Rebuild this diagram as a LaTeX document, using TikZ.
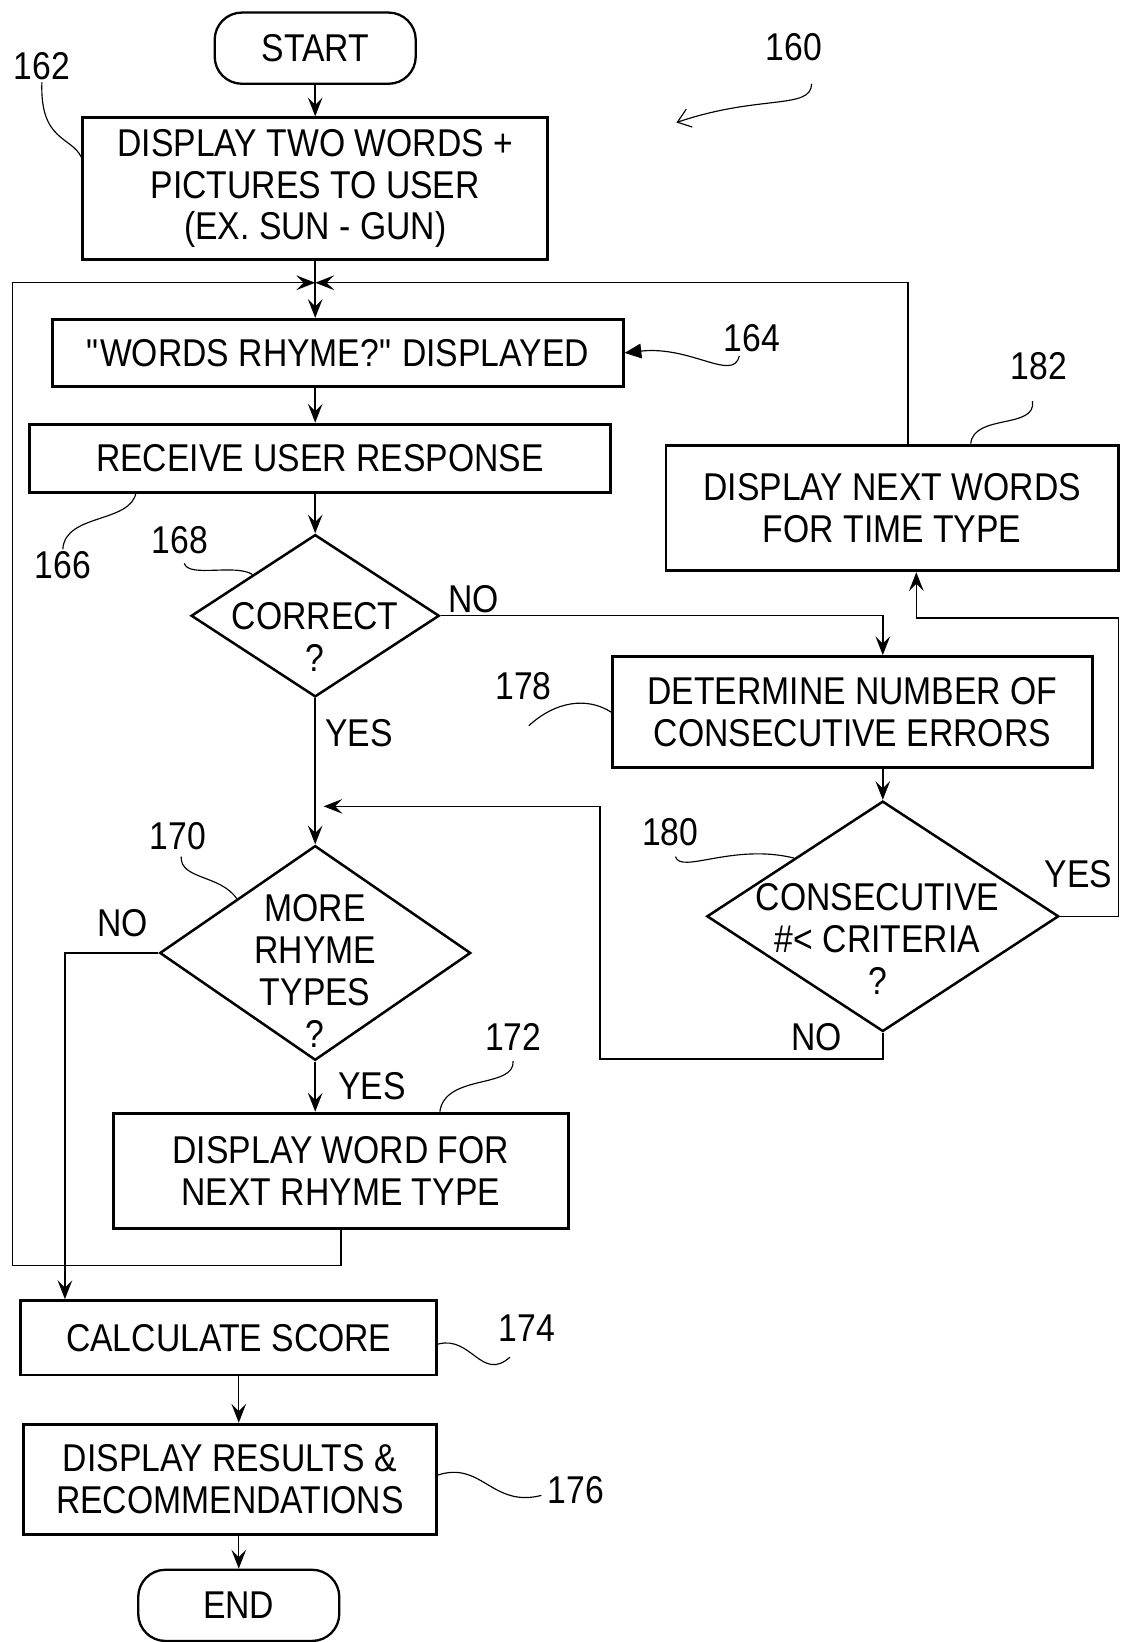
\documentclass[tikz,border=0pt]{standalone}
\usepackage{fontspec}
\setmainfont[FakeStretch=0.87]{Liberation Sans}
\usetikzlibrary{shapes.geometric,arrows.meta,positioning,calc}

\begin{document}
\begin{tikzpicture}[x=0.5pt,y=-0.5pt,>={Stealth[length=9pt,width=7pt,inset=3.5pt]},
    font=\fontsize{18.5}{20}\selectfont,
    base node/.style={draw,inner sep=0pt,align=center,line width=1.4pt},
    proc node/.style={base node,rectangle},
    term node/.style={base node,rounded corners=13pt,line width=1.1pt,minimum width=96pt,minimum height=34pt},
    dec node/.style={base node,diamond,line width=1.2pt},
    dec text/.style={align=center,inner sep=0pt},
    num/.style={inner sep=1pt},
    flow/.style={->,line width=0.7pt},
    lead/.style={line width=0.55pt}]
\useasboundingbox (0,0) rectangle (1070,1568);

\node[term node] (start) at (301,46) {START};
\node[proc node,minimum width=222pt,minimum height=67.5pt] (b162) at (301,180) {DISPLAY TWO WORDS +\\PICTURES TO USER\\(EX. SUN - GUN)};
\node[proc node,minimum width=272.5pt,minimum height=32pt] (b164) at (322.5,337) {\textquotedbl WORDS RHYME?\textquotedbl{} DISPLAYED};
\node[proc node,minimum width=277.5pt,minimum height=32.5pt] (b166) at (305.5,437.5) {RECEIVE USER RESPONSE};
\node[dec node,minimum width=118.5pt,minimum height=77.5pt] (d168) at (301,588) {};
\node[dec text] (t168) at (301,608) {CORRECT\\?};
\node[proc node,minimum width=229pt,minimum height=53pt] (b178) at (814,680) {DETERMINE NUMBER OF\\CONSECUTIVE ERRORS};
\node[dec node,minimum width=168pt,minimum height=110pt] (d180) at (843,875) {};
\node[dec text] (t180) at (838,897) {CONSECUTIVE\\\#< CRITERIA\\?};
\node[proc node,minimum width=216pt,minimum height=60pt] (b182) at (852,485) {DISPLAY NEXT WORDS\\FOR TIME TYPE};
\node[dec node,minimum width=148.5pt,minimum height=102.5pt] (d170) at (301,910) {};
\node[dec text] (t170) at (301,927) {MORE\\RHYME\\TYPES\\?};
\node[proc node,minimum width=217.5pt,minimum height=55pt] (b172) at (325.5,1118) {DISPLAY WORD FOR\\NEXT RHYME TYPE};
\node[proc node,minimum width=198.5pt,minimum height=35.5pt] (b174) at (218.5,1277.5) {CALCULATE SCORE};
\node[proc node,minimum width=197.5pt,minimum height=52.5pt] (b176) at (219.5,1412.5) {DISPLAY RESULTS \&\\RECOMMENDATIONS};
\node[term node] (end) at (228,1533) {END};

\coordinate (m) at (301,270);
\coordinate (j) at (309,770);

\draw[flow] (start) -- (b162);
\draw[flow] (b162.south) -- (b162.south |- b164.north);
\draw[flow] (b172.south) -- ++(0,34) -| (12,270) -- (m);
\draw[flow] ([xshift=7.5pt]b182.north) |- (m);
\draw[flow] (b164.south -| m) -- (b166.north -| m);
\draw[flow] (b166.south -| m) -- (d168.north);
\draw[flow] (d168.east) -| (b178.north -| d180.north);
\draw[flow] (b178.south -| d180.north) -- (d180.north);
\draw[flow] (d168.south) -- (d170.north);
\draw[flow] (d180.east) -| (1068,590) -| ([xshift=11.5pt]b182.south);
\draw[flow] (d180.south) -- ++(0,25) -| (573,770) -- (j);
\draw[flow] (d170.west) -| ([xshift=-78.25pt]b174.north);
\draw[flow] (d170.south) -- (d170.south |- b172.north);
\draw[flow] (b174.south -| end) -- (b176.north -| end);
\draw[flow] (b176.south -| end) -- (end);

\node (no168) at (452,572) {NO};
\node (yes168) at (343,700) {YES};
\node (yes180) at (1030,835) {YES};
\node (no180) at (780,990) {NO};
\node (no170) at (117,882) {NO};
\node (yes170) at (355,1037) {YES};

\node[num] (n160) at (758,45) {160};
\node[num] (n162) at (40,63) {162};
\node[num] (n164) at (718,323) {164};
\node[num] (n166) at (60,540) {166};
\node[num] (n168) at (172,516) {168};
\node[num] (n170) at (170,798) {170};
\node[num] (n172) at (490,990) {172};
\node[num] (n174) at (503,1268) {174};
\node[num] (n176) at (550,1423) {176};
\node[num] (n178) at (500,655) {178};
\node[num] (n180) at (640,795) {180};
\node[num] (n182) at (992,350) {182};

\draw[lead,-{Straight Barb[length=6pt,width=9pt]}] (775,80) .. controls (775,105) and (725,90) .. (646,117);
\draw[lead] (n162.south) .. controls (38,135) and (68,130) .. ([yshift=15pt]b162.west);
\draw[lead,-{Triangle[length=8pt,width=7pt]}] (706,340) .. controls (700,365) and (660,330) .. (b164.east);
\draw[lead] (n166.north) .. controls (62,490) and (125,500) .. (130,470);
\draw[lead] (176,538) .. controls (180,552) and (225,538) .. (d168.north west);
\draw[lead] (173,818) .. controls (172,840) and (210,835) .. (d170.north west);
\draw[lead] (490,1013) .. controls (492,1040) and (425,1025) .. ([xshift=47.25pt]b172.north);
\draw[lead] ([yshift=-3pt]b174.east) .. controls (450,1275) and (460,1320) .. (487,1296);
\draw[lead] ([yshift=2pt]b176.east) .. controls (460,1395) and (470,1440) .. (517,1428);
\draw[lead] (505,693) .. controls (530,670) and (560,665) .. (b178.west);
\draw[lead] (645,818) .. controls (650,835) and (700,805) .. (d180.north west);
\draw[lead] (986,383) .. controls (990,410) and (930,395) .. ([xshift=37.5pt]b182.north);
\end{tikzpicture}
\end{document}
